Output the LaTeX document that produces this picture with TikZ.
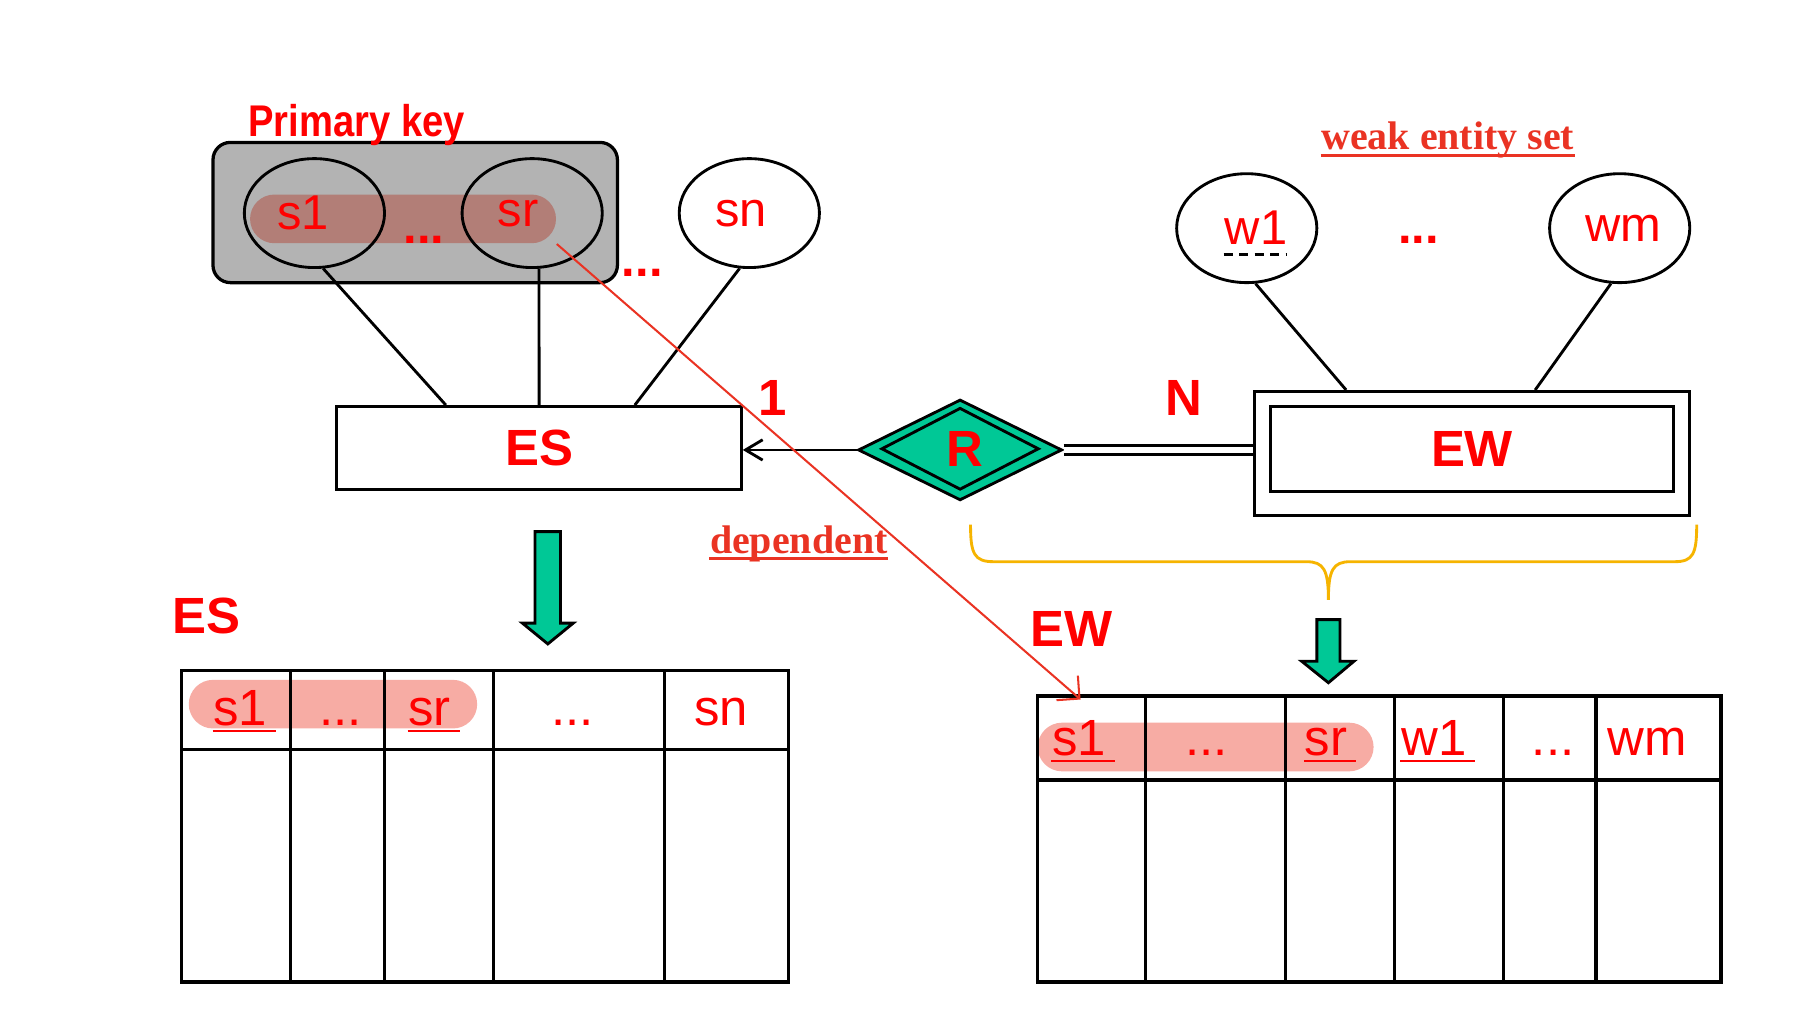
\documentclass[tikz,border=0pt]{standalone}
\usepackage{fontspec}
\setmainfont{Liberation Sans}
\newfontfamily\narrowsans[FakeStretch=0.86]{Liberation Sans}
\newfontfamily\timesbf{Liberation Serif}
\usetikzlibrary{arrows.meta, shapes.geometric, positioning, calc}
\definecolor{rojoline}{HTML}{EA3323}
\definecolor{grisbox}{HTML}{B3B3B3}
\definecolor{pkoscuro}{HTML}{B27E77}
\definecolor{pkclaro}{HTML}{F7ACA4}
\definecolor{verde}{HTML}{00C896}
\definecolor{llave}{HTML}{F6B400}

\begin{document}
\begin{tikzpicture}[
  x=0.01cm, y=-0.01cm,
  attr/.style={
    ellipse, draw, line width=0.7pt, inner sep=0pt,
    minimum width=1.21cm, minimum height=0.94cm
  },
  attrtxt/.style={font=\fontsize{12}{14}\selectfont, text=red, inner sep=0pt},
  entity/.style={
    rectangle, draw, line width=0.7pt, inner sep=0pt,
    font=\bfseries\fontsize{12.5}{15}\selectfont, text=red
  },
  card/.style={font=\bfseries\fontsize{12.5}{15}\selectfont, text=red, inner sep=0pt},
  dotsbf/.style={font=\bfseries\fontsize{12}{14}\selectfont, text=red, inner sep=0pt},
  remark/.style={font=\timesbf\bfseries\fontsize{9.8}{12}\selectfont, text=rojoline,
    inner sep=0pt, anchor=base},
  cell/.style={font=\fontsize{12.5}{15}\selectfont, text=red, inner sep=0pt, anchor=base},
  conn/.style={line width=0.7pt},
  tabline/.style={line width=0.8pt},
  bigarrow/.style={draw, fill=verde, line width=0.7pt},
  pill/.style={rounded corners=0.21cm},
  brace/.style={draw=llave, line width=0.7pt}
]
  \fill[white] (0,0) rectangle (1568,891);

  % ER part
  \node[draw, fill=grisbox, line width=0.8pt, rounded corners=0.15cm,
    minimum width=3.49cm, minimum height=1.21cm] (pkbox) at (358.5,183.5) {};
  \node[fill=pkoscuro, pill, inner sep=0pt,
    minimum width=2.64cm, minimum height=0.42cm] (pkbar) at (348,189) {};
  \node[font=\narrowsans\bfseries\fontsize{10.9}{13}\selectfont, text=red,
    inner sep=0pt, anchor=base] (pklabel) at (308,118) {Primary key};

  \node[attr, label={[attrtxt, xshift=-2.8pt]center:s1}] (s1) at (271.5,184) {};
  \node[attr, label={[attrtxt, xshift=-3.4pt]center:sr}] (sr) at (459.5,184) {};
  \node[attr, label={[attrtxt, xshift=-2pt]center:sn}] (sn) at (647,184) {};
  \node[attr, label={[attrtxt, xshift=2.3pt]center:w1}] (w1) at (1076.5,197) {};
  \node[attr, label={[attrtxt, xshift=0.9pt]center:wm}] (wm) at (1398.5,197) {};
  \draw[dashed, line width=0.7pt, dash pattern=on 2.2pt off 1.6pt]
    ($(w1.center)+(-20,23)$) -- ($(w1.center)+(34,23)$);

  \node[dotsbf] (pkdots) at (366,207) {...};
  \node[dotsbf] (sdots) at (554.5,236) {...};
  \node[dotsbf] (wdots) at (1225,207) {...};

  \node[entity, minimum width=3.49cm, minimum height=0.72cm] (es) at (465.5,387) {ES};
  \node[draw, line width=0.7pt, minimum width=3.76cm, minimum height=1.07cm] (ewouter) at (1271,391.5) {};
  \node[entity, minimum width=3.48cm, minimum height=0.73cm] (ew) at (1271,387.5) {EW};

  \node[diamond, draw, fill=verde, line width=0.7pt, inner sep=0pt,
    minimum width=1.76cm, minimum height=0.87cm] (relouter) at (829,388.5) {};
  \node[diamond, draw, line width=0.7pt, card,
    minimum width=1.36cm, minimum height=0.68cm] (rel) at (829,387.5) {\kern2.5pt R};

  \node[card] (one) at (667,344) {1};
  \node[card] (many) at (1022,344) {N};

  \draw[conn] (s1.-81) -- ($(es.north west)!0.271!(es.north east)$);
  \draw[conn] (sr.-83) -- (es.north);
  \draw[conn] (sn.-100) -- ($(es.north west)!0.735!(es.north east)$);
  \draw[conn] (w1.-81) -- ($(ewouter.north west)!0.213!(ewouter.north east)$);
  \draw[conn] (wm.-99) -- ($(ewouter.north west)!0.644!(ewouter.north east)$);
  \draw[conn, -{Straight Barb[length=4.2pt,width=5pt]}] (relouter.west) -- (relouter.west -| es.east);
  \draw[conn, double, double distance=1.4pt] (relouter.east) -- (relouter.east -| ewouter.west);

  \node[remark] (weak) at (1250,129.5) {weak entity set};
  \node[remark] (dep) at (689.7,477.8) {dependent};
  \foreach \k in {weak,dep}
    \draw[rojoline, line width=0.7pt] ([yshift=-1.3pt]\k.base west) -- ([yshift=-1.3pt]\k.base east);

  \draw[brace] (838,453) .. controls (838,478) and (841,485) .. (858,485) -- (1128,485)
    .. controls (1143,485) and (1147,492) .. (1147,518)
    .. controls (1147,492) and (1151,485) .. (1166,485) -- (1446,485)
    .. controls (1462,485) and (1465,478) .. (1465,453);

  \draw[bigarrow] (462,459) -- (484,459) -- (484,538) -- (495,538) -- (473,556)
    -- (451,538) -- (462,538) -- cycle;
  \draw[bigarrow] (1137,535) -- (1157,535) -- (1157,571) -- (1169,571) -- (1147,589.5)
    -- (1124,571) -- (1137,571) -- cycle;

  % tables
  \node[card] (estab) at (178,532) {ES};
  \node[card] (ewtab) at (925,543) {EW};

  \fill[pkclaro, pill] (163,587) rectangle (412,629);
  \draw[tabline] (157,579) rectangle (681,848);
  \draw[tabline] (157,647) -- (681,647);
  \foreach \x in {251,332,426,574}
    \draw[tabline] (\x,579) -- (\x,848);

  \fill[pkclaro, pill] (896,624) rectangle (1186,666);
  \draw[tabline] (895.5,601) rectangle (1486,848);
  \draw[tabline] (895.5,673.5) -- (1486,673.5);
  \foreach \x in {989,1110,1204,1298,1378}
    \draw[tabline] (\x,601) -- (\x,848);

  \node[cell] (lk1) at (207.5,626) {s1};
  \node[cell] (ldots1) at (294,626) {...};
  \node[cell] (lkr) at (371,626) {sr};
  \node[cell] (ldots2) at (494.6,626) {...};
  \node[cell] (lsn) at (622.6,626) {sn};

  \node[cell] (rk1) at (931.8,652) {s1};
  \node[cell] (rdots1) at (1042,652) {...};
  \node[cell] (rkr) at (1145,652) {sr};
  \node[cell] (rw1) at (1238,652) {w1};
  \node[cell] (rdots2) at (1341,652) {...};
  \node[cell] (rwm) at (1422,652) {wm};

  \foreach \k in {lk1,lkr,rk1,rkr,rw1}
    \draw[red, line width=0.6pt] ([yshift=-1.5pt]\k.base west) -- ([yshift=-1.5pt, xshift=2pt]\k.base east);

  % dependency
  \coordinate (ewkey) at (933,604);
  \draw[rojoline, line width=0.5pt, -{Straight Barb[length=4pt,width=8pt]}] (pkbar.south east) -- (ewkey);
\end{tikzpicture}
\end{document}
